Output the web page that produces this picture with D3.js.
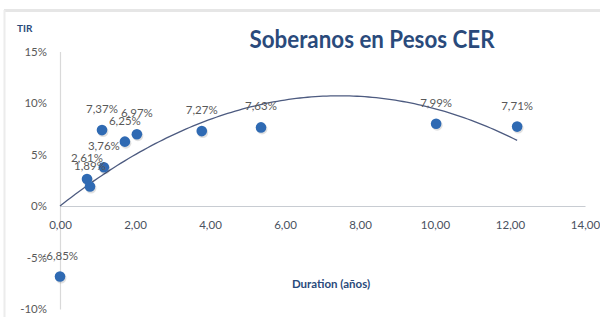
<!DOCTYPE html>
<html><head><meta charset="utf-8">
<script src="https://cdn.jsdelivr.net/npm/d3@7"></script>
<style>
html,body{margin:0;padding:0;background:#fff;}
svg{display:block;}
text{font-family:Lato,"Open Sans",sans-serif;}
</style></head>
<body>
<svg id="c" width="600" height="317"></svg>
<script>
// Data
const durations = [0.00, 0.72, 0.80, 1.12, 1.17, 1.73, 2.05, 3.78, 5.36, 10.03, 12.19];
const tirs      = [-6.85, 2.61, 1.89, 7.37, 3.76, 6.25, 6.97, 7.27, 7.63, 7.99, 7.71];
const pointLabels = ["-6,85%","2,61%","1,89%","7,37%","3,76%","6,25%","6,97%","7,27%","7,63%","7,99%","7,71%"];
const xTicks = [0, 2, 4, 6, 8, 10, 12, 14];
const yTicks = [-10, -5, 0, 5, 10, 15];
const titleText = "Soberanos en Pesos CER";
const yTitle = "TIR";
const xTitle = "Duration (años)";

const svg = d3.select("#c");

// card frame
svg.append("line").attr("x1",4).attr("x2",600).attr("y1",10.5).attr("y2",10.5).attr("stroke","#e6e6e6").attr("stroke-width",3);
svg.append("line").attr("x1",4.5).attr("x2",4.5).attr("y1",10).attr("y2",317).attr("stroke","#ececec").attr("stroke-width",2);

const x = d3.scaleLinear().domain([0,14]).range([60,585]);
const y = d3.scaleLinear().domain([-10,15]).range([309,51.5]);

// axes
const yAxis = d3.axisLeft(y).tickValues(yTicks).tickSize(0).tickPadding(13).tickFormat(d => d + "%");
const gy = svg.append("g").attr("transform","translate(60,0)").call(yAxis);
gy.select(".domain").attr("stroke","#d9d9d9").attr("stroke-width",1.2);
gy.selectAll("text").attr("fill","#595959").attr("font-size",11.5).attr("font-family","Lato, sans-serif");

const xAxis = d3.axisBottom(x).tickValues(xTicks).tickSize(0).tickPadding(15)
  .tickFormat(d => d3.format(".2f")(d).replace(".", ","));
const gx = svg.append("g").attr("transform",`translate(0,${y(0)})`).call(xAxis);
gx.select(".domain").attr("stroke","#c8ccd2").attr("stroke-width",1.2);
gx.selectAll("text").attr("fill","#4a5160").attr("font-size",11.5).attr("font-family","Lato, sans-serif");

// polynomial (order 2, intercept 0) least-squares trendline from the data
let s2=0,s3=0,s4=0,sxy=0,sx2y=0;
durations.forEach((xv,i)=>{const yv=tirs[i];s2+=xv*xv;s3+=xv**3;s4+=xv**4;sxy+=xv*yv;sx2y+=xv*xv*yv;});
const det = s4*s2 - s3*s3;
const a = (sx2y*s2 - s3*sxy)/det;
const b = (s4*sxy - s3*sx2y)/det;
const xMax = d3.max(durations);
const trend = d3.range(0, 121).map(i => { const xv = xMax*i/120; return [xv, a*xv*xv + b*xv]; });
svg.append("path").datum(trend)
  .attr("d", d3.line().x(d=>x(d[0])).y(d=>y(d[1])))
  .attr("fill","none").attr("stroke","#4d5b80").attr("stroke-width",1.3);

// points
const pts = durations.map((d,i)=>({x:d,y:tirs[i],l:pointLabels[i]}));
svg.append("g").selectAll("circle").data(pts).join("circle")
  .attr("cx",d=>x(d.x)+1).attr("cy",d=>y(d.y)+1.5).attr("r",5.5).attr("fill","#000").attr("opacity",0.12);
svg.append("g").selectAll("circle").data(pts).join("circle")
  .attr("cx",d=>x(d.x)).attr("cy",d=>y(d.y)).attr("r",5.3).attr("fill","#2f6ab3");

svg.append("g").selectAll("text").data(pts).join("text")
  .attr("x",d=>x(d.x)).attr("y",d=>y(d.y)-17)
  .attr("text-anchor","middle").attr("font-size",11.5).attr("fill","#595959")
  .text(d=>d.l);

// titles
svg.append("text").attr("x",372).attr("y",48).attr("text-anchor","middle")
  .attr("font-size",24).attr("font-weight",700).attr("fill","#2a4a7b")
  .attr("textLength",245).attr("lengthAdjust","spacingAndGlyphs").text(titleText);
svg.append("text").attr("x",17).attr("y",32).attr("font-size",10).attr("font-weight",700)
  .attr("fill","#2a4a7b").text(yTitle);
svg.append("text").attr("x",331).attr("y",288).attr("text-anchor","middle").attr("font-size",11.5)
  .attr("font-weight",700).attr("fill","#2a4a7b").text(xTitle);
</script>
</body></html>
